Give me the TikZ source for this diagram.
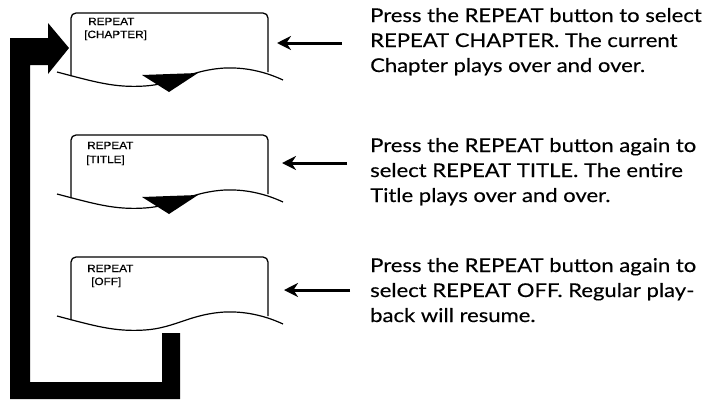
\documentclass[tikz,border=0pt]{standalone}
\usepackage{fontspec}
\setmainfont{Lato}
\newfontfamily\descfont[FakeStretch=1.16,FakeBold=0.3]{Lato}
\newfontfamily\lcdfont[FakeBold=0.5]{Liberation Sans}
\usetikzlibrary{arrows.meta}
\tikzset{
  screenline/.style={line width=1.3pt, rounded corners=5pt},
  waveline/.style={line width=1.2pt},
  lcdtext/.style={anchor=base west, inner sep=0pt, font=\lcdfont\fontsize{10.5}{12}\selectfont},
  desc/.style={anchor=base west, inner sep=0pt, font=\descfont\fontsize{19}{25}\selectfont},
  pointer/.style={line width=3pt, -{Stealth[length=14pt,width=14pt]}},
}
\newcommand{\lcdlabel}[1]{\scalebox{1.12}[1]{#1}}
\begin{document}
\begin{tikzpicture}[x=1pt,y=-1pt]
\useasboundingbox (0,0) rectangle (714,400);

% screens
\foreach \dy/\tri in {0/1,122/1,244/0}{
  \begin{scope}[yshift=-\dy pt]
    \draw[screenline] (71,76) -- (71,13) -- (268,13) -- (268,72);
    \draw[waveline] (57,72) .. controls (95,82) and (115,88) .. (145,86)
       .. controls (175,84) and (190,70) .. (225,68)
       .. controls (250,67) and (270,74) .. (283,80);
    \ifnum\tri=1
      \fill (142,75) -- (198,73) -- (169,92) -- cycle;
    \fi
  \end{scope}
}

% LCD labels
\node[lcdtext] (l1a) at (88,25) {\lcdlabel{REPEAT}};
\node[lcdtext] (l1b) at (84,38) {\lcdlabel{[CHAPTER]}};
\node[lcdtext] (l2a) at (87,149) {\lcdlabel{REPEAT}};
\node[lcdtext] (l2b) at (86,163) {\lcdlabel{[TITLE]}};
\node[lcdtext] (l3a) at (87,272) {\lcdlabel{REPEAT}};
\node[lcdtext] (l3b) at (91,285) {\lcdlabel{[OFF]}};

% big return arrow
\fill (180,399) -- (180,333) -- (162,333) -- (162,382) -- (30,382) -- (30,65)
  -- (48,65) -- (48,74) -- (69,48) -- (48,23) -- (48,38) -- (10,38) -- (10,399) -- cycle;

% description texts
\node[desc] (t1a) at (370,22) {Press the REPEAT button to select};
\node[desc] (t1b) at (370,47) {REPEAT CHAPTER. The current};
\node[desc] (t1c) at (370,72) {Chapter plays over and over.};
\node[desc] (t2a) at (370,152) {Press the REPEAT button again to};
\node[desc] (t2b) at (370,177) {select REPEAT TITLE. The entire};
\node[desc] (t2c) at (370,202) {Title plays over and over.};
\node[desc] (t3a) at (370,272) {Press the REPEAT button again to};
\node[desc] (t3b) at (370,297) {select REPEAT OFF. Regular play-};
\node[desc] (t3c) at (370,322) {back will resume.};

% pointers
\coordinate (s1) at (342,43); \coordinate (e1) at (277,43);
\coordinate (s2) at (347,163); \coordinate (e2) at (282,163);
\coordinate (s3) at (350,290); \coordinate (e3) at (284,290);
\draw[pointer] (s1) -- (e1);
\draw[pointer] (s2) -- (e2);
\draw[pointer] (s3) -- (e3);
\end{tikzpicture}
\end{document}
